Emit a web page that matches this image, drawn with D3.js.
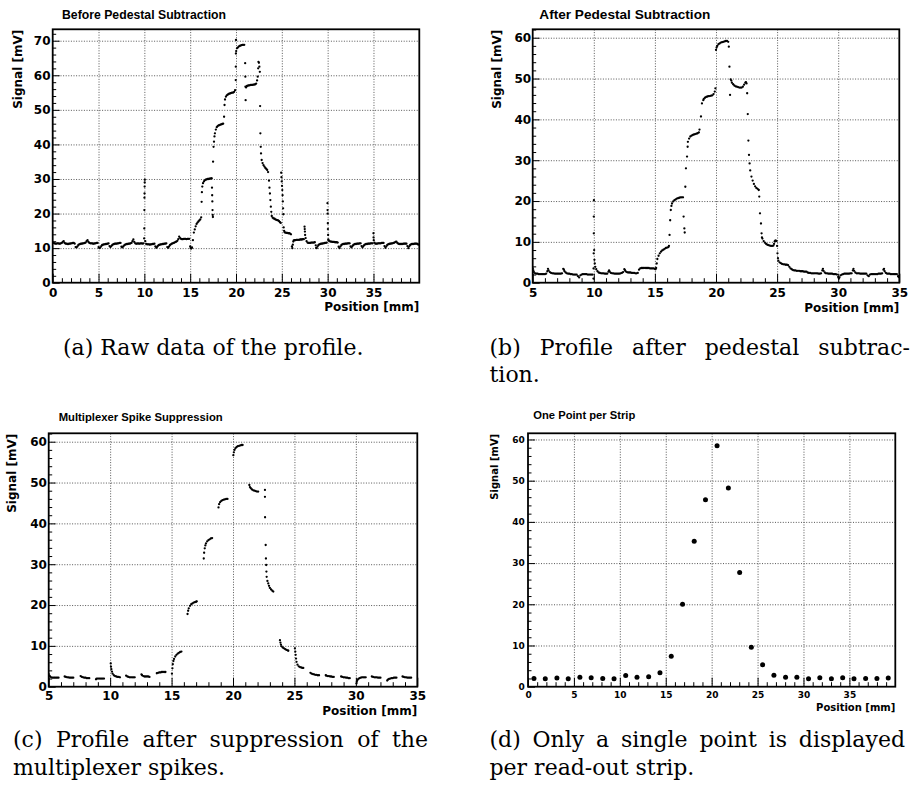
<!DOCTYPE html>
<html><head><meta charset="utf-8">
<script src="https://cdn.jsdelivr.net/npm/d3@7"></script>
<style>body{margin:0;background:#fff}svg{display:block}</style>
</head><body>
<svg id="fig" width="916" height="796"></svg>
<script>
// ---------- DATA ----------
// (a) raw profile [position mm, signal mV]
const rawPoints = [[0,11.4],[0.1,11.5],[0.2,11.4],[0.3,11.3],[0.4,11.3],[0.5,11.4],[0.6,11.4],[0.7,11.3],[0.8,11.3],[0.9,11.4],[1.0,11.5],[1.1,11.8],[1.2,12.0],[1.3,11.5],[1.4,11.3],[1.5,11.3],[1.6,11.2],[1.7,11.2],[1.8,11.3],[1.9,11.3],[2.0,11.4],[2.1,11.4],[2.2,11.5],[2.3,11.5],[2.4,11.3],[2.5,10.3],[2.6,10.2],[2.7,10.5],[2.8,10.9],[2.9,11.1],[3.0,11.2],[3.1,11.3],[3.2,11.3],[3.3,11.4],[3.4,11.4],[3.5,11.5],[3.6,11.6],[3.7,12.0],[3.8,12.3],[3.9,11.8],[4.0,11.5],[4.1,11.4],[4.2,11.4],[4.3,11.4],[4.4,11.3],[4.5,11.3],[4.6,11.4],[4.7,11.4],[4.8,11.5],[4.9,11.5],[5.0,10.3],[5.1,10.0],[5.2,10.2],[5.3,10.6],[5.4,10.9],[5.5,11.0],[5.6,11.1],[5.7,11.1],[5.8,11.2],[5.9,11.2],[6.0,11.3],[6.1,11.4],[6.2,10.6],[6.3,10.3],[6.4,10.6],[6.5,10.9],[6.6,11.1],[6.7,11.2],[6.8,11.3],[6.9,11.3],[7.0,11.3],[7.1,11.4],[7.2,11.4],[7.3,11.5],[7.4,11.5],[7.5,10.4],[7.6,10.2],[7.7,10.5],[7.8,10.8],[7.9,11.0],[8.0,11.1],[8.1,11.2],[8.2,11.2],[8.3,11.3],[8.4,11.3],[8.5,11.4],[8.6,11.5],[8.7,12.0],[8.8,12.5],[8.9,11.8],[9.0,11.4],[9.1,11.3],[9.2,11.3],[9.3,11.4],[9.4,11.3],[9.5,11.3],[9.6,11.4],[9.7,11.4],[9.8,11.3],[9.9,11.4],
[9.98,12.8],[9.99,15.7],[10.0,21.0],[10.01,24.6],[10.02,25.8],[10.03,27.8],[10.04,29.0],[10.05,29.8],[10.1,12.0],
[10.2,11.2],[10.3,11.1],[10.4,11.1],[10.5,11.1],[10.6,11.0],[10.7,11.1],[10.8,11.1],[10.9,11.2],[11.0,11.2],[11.1,11.3],[11.2,10.5],[11.3,10.1],[11.4,10.4],[11.5,10.7],[11.6,10.9],[11.7,11.0],[11.8,11.1],[11.9,11.1],[12.0,11.2],[12.1,11.2],[12.2,11.3],[12.3,11.3],[12.4,11.4],[12.5,10.3],[12.6,10.1],[12.7,10.5],[12.8,10.9],[12.9,11.1],[13.0,11.3],[13.1,11.4],[13.2,11.5],[13.3,11.6],[13.4,11.8],[13.5,11.9],[13.6,12.1],[13.7,12.6],[13.8,13.3],[13.9,12.9],[14.0,12.7],[14.1,12.6],[14.2,12.6],[14.3,12.7],[14.4,12.7],[14.5,12.7],[14.6,12.6],[14.7,12.7],[14.8,12.7],[14.9,12.7],
[15.0,10.5],[15.05,10.0],[15.1,9.9],[15.15,10.0],[15.2,10.2],[15.3,12.3],[15.4,14.5],[15.5,15.4],[15.6,16.3],[15.7,17.0],[15.8,17.4],[15.9,17.7],[16.0,18.0],[16.1,18.3],[16.2,18.9],[16.25,23.4],[16.28,26.2],[16.32,27.8],[16.4,28.8],[16.5,29.3],[16.6,29.6],[16.7,29.8],[16.8,29.9],[16.9,30.0],[17.0,30.0],[17.1,30.1],[17.2,30.1],[17.3,30.2],[17.35,30.2],
[17.38,27.5],[17.4,25.3],[17.42,23.5],[17.44,21.0],[17.46,19.6],[17.48,19.0],
[17.5,35.0],[17.55,39.3],[17.6,40.8],[17.65,42.3],[17.7,43.2],[17.8,44.3],[17.9,45.0],[18.0,45.3],[18.1,45.5],[18.2,45.6],[18.3,45.7],[18.4,45.8],[18.5,45.9],[18.6,46.0],[18.7,48.0],[18.75,51.4],[18.8,53.0],[18.9,53.8],[19.0,54.2],[19.1,54.4],[19.2,54.6],[19.3,54.7],[19.4,54.8],[19.5,54.9],[19.6,55.0],[19.7,55.0],[19.8,55.2],[19.9,55.7],
[19.97,58.6],[19.98,62.5],[19.99,66.3],[20.0,70.2],[20.02,67.0],[20.1,67.8],[20.2,68.0],[20.3,68.3],[20.4,68.5],[20.5,68.6],[20.6,68.7],[20.7,68.8],[20.8,68.8],[20.9,68.8],
[21.0,63.5],[21.02,59.6],[21.03,56.7],[21.05,52.8],[21.1,56.5],[21.2,56.9],[21.3,57.0],[21.4,57.1],[21.5,57.1],[21.6,57.2],[21.7,57.2],[21.8,57.2],[21.9,57.3],[22.0,57.3],[22.1,57.4],[22.2,57.6],[22.3,58.5],[22.37,59.6],[22.42,62.0],[22.45,63.9],[22.5,63.6],[22.55,62.5],[22.6,61.0],
[22.63,51.1],[22.66,43.2],[22.7,39.3],[22.73,37.4],[22.8,35.5],[22.9,34.6],[23.0,34.0],[23.1,33.6],[23.2,33.2],[23.3,32.9],[23.4,32.6],[23.5,32.0],[23.6,29.5],[23.65,27.5],[23.7,25.8],[23.75,23.9],[23.8,22.0],[23.85,20.5],[23.9,19.3],[24.0,18.8],[24.1,18.6],[24.2,18.5],[24.3,18.3],[24.4,18.2],[24.5,18.1],[24.6,18.0],[24.7,17.8],[24.8,17.5],[24.88,17.3],
[24.93,31.8],[24.96,30.5],[24.99,29.3],[25.02,28.0],[25.05,26.8],[25.08,25.3],[25.11,23.5],[25.14,21.5],[25.17,19.8],[25.2,16.0],[25.25,15.0],[25.3,14.6],[25.4,14.5],[25.5,14.4],[25.6,14.4],[25.7,14.3],[25.8,14.3],[25.9,14.2],[26.0,14.0],[26.1,10.5],[26.15,10.0],[26.2,11.0],[26.25,11.9],[26.3,12.2],[26.4,12.3],[26.5,12.3],[26.6,12.4],[26.7,12.4],[26.8,12.4],[26.9,12.4],[27.0,12.5],[27.1,12.5],[27.2,12.5],[27.3,12.6],[27.4,12.6],
[27.48,16.2],[27.5,15.5],[27.52,14.8],[27.54,13.8],[27.6,12.9],[27.7,12.0],[27.8,11.6],[27.9,11.5],[28.0,11.5],[28.1,11.5],[28.2,11.6],[28.3,11.6],[28.4,11.6],[28.5,11.6],[28.6,11.7],[28.7,10.8],[28.75,10.1],[28.8,10.0],[28.9,10.5],[29.0,10.9],[29.1,11.1],[29.2,11.2],[29.3,11.3],[29.4,11.3],[29.5,11.4],[29.6,11.4],[29.7,11.5],[29.8,11.5],[29.9,11.6],
[29.98,23.0],[29.99,21.0],[30.0,20.0],[30.02,17.2],[30.03,15.5],[30.05,13.8],[30.07,12.5],[30.1,12.2],[30.2,12.0],[30.3,11.9],[30.4,11.9],[30.5,11.8],[30.6,11.8],[30.7,11.8],[30.8,11.7],[30.9,11.7],[31.0,11.7],[31.1,11.6],[31.2,10.4],[31.3,10.0],[31.4,10.5],[31.5,10.9],[31.6,11.1],[31.7,11.2],[31.8,11.2],[31.9,11.3],[32.0,11.3],[32.1,11.3],[32.2,11.4],[32.3,11.4],[32.4,11.4],[32.5,10.5],[32.6,10.2],[32.7,10.6],[32.8,10.9],[32.9,11.1],[33.0,11.2],[33.1,11.2],[33.2,11.3],[33.3,11.3],[33.4,11.3],[33.5,11.4],[33.6,11.4],[33.7,10.6],[33.8,10.2],[33.9,10.6],[34.0,10.9],[34.1,11.1],[34.2,11.2],[34.3,11.2],[34.4,11.3],[34.5,11.3],[34.6,11.3],[34.7,11.4],[34.8,11.4],[34.9,11.4],
[35.0,14.3],[35.01,13.1],[35.03,12.3],[35.1,11.6],[35.2,11.3],[35.3,11.3],[35.4,11.3],[35.5,11.4],[35.6,11.4],[35.7,11.4],[35.8,11.4],[35.9,11.5],[36.0,11.5],[36.1,11.5],[36.2,10.6],[36.3,10.1],[36.4,10.5],[36.5,10.9],[36.6,11.1],[36.7,11.2],[36.8,11.3],[36.9,11.3],[37.0,11.4],[37.1,11.4],[37.2,11.5],[37.3,11.6],[37.4,11.8],[37.5,11.9],[37.6,11.5],[37.7,11.3],[37.8,11.2],[37.9,11.2],[38.0,11.2],[38.1,11.2],[38.2,11.2],[38.3,11.3],[38.4,11.3],[38.5,11.3],[38.6,11.3],[38.7,10.6],[38.8,10.0],[38.9,10.5],[39.0,10.9],[39.1,11.1],[39.2,11.2],[39.3,11.2],[39.4,11.2],[39.5,11.3],[39.6,11.3],[39.7,11.3],[39.8,11.2],[39.9,11.0]];

// (b) after pedestal subtraction
const pedPoints = [[5.0,3.5],[5.05,3.0],[5.1,2.6],[5.2,2.3],[5.3,2.2],[5.4,2.2],[5.5,2.1],[5.6,2.1],[5.7,2.1],[5.8,2.1],[5.9,2.1],[6.0,2.1],[6.1,2.2],[6.2,2.8],[6.25,3.4],[6.3,3.0],[6.4,2.6],[6.5,2.4],[6.6,2.3],[6.7,2.3],[6.8,2.2],[6.9,2.2],[7.0,2.2],[7.1,2.2],[7.2,2.2],[7.3,2.2],[7.4,2.3],[7.5,3.4],[7.55,3.2],[7.6,2.8],[7.7,2.5],[7.8,2.3],[7.9,2.2],[8.0,2.2],[8.1,2.1],[8.2,2.1],[8.3,2.0],[8.4,2.0],[8.5,2.0],[8.6,2.0],[8.7,1.6],[8.8,1.3],[8.9,1.8],[9.0,2.0],[9.1,2.1],[9.2,2.1],[9.3,2.1],[9.4,2.1],[9.5,2.0],[9.6,2.0],[9.7,2.0],[9.8,2.0],[9.9,2.0],
[9.97,1.0],[9.98,3.5],[9.99,7.2],[10.0,12.1],[10.0,16.2],[10.01,20.2],[10.03,8.0],[10.05,5.6],[10.08,4.7],[10.12,3.9],[10.2,3.3],[10.3,2.8],[10.4,2.5],[10.5,2.4],[10.6,2.3],[10.7,2.3],[10.8,2.3],[10.9,2.2],[11.0,2.2],[11.1,2.2],[11.2,2.7],[11.25,3.0],[11.3,2.7],[11.4,2.4],[11.5,2.3],[11.6,2.3],[11.7,2.2],[11.8,2.2],[11.9,2.2],[12.0,2.2],[12.1,2.2],[12.2,2.3],[12.3,2.4],[12.4,2.6],[12.5,3.3],[12.55,3.1],[12.6,2.8],[12.7,2.6],[12.8,2.5],[12.9,2.5],[13.0,2.5],[13.1,2.4],[13.2,2.4],[13.3,2.4],[13.4,2.3],[13.5,2.3],[13.6,2.4],[13.7,3.2],[13.8,3.5],[13.9,3.6],[14.0,3.6],[14.1,3.6],[14.2,3.6],[14.3,3.6],[14.4,3.6],[14.5,3.6],[14.6,3.5],[14.7,3.5],[14.8,3.5],[14.9,3.5],
[15.0,3.4],[15.05,3.3],[15.1,3.6],[15.15,4.7],[15.2,5.8],[15.3,6.6],[15.4,7.2],[15.5,7.6],[15.6,7.9],[15.7,8.1],[15.8,8.3],[15.9,8.5],[16.0,8.6],[16.1,8.7],[16.15,9.0],[16.2,11.7],[16.25,15.3],[16.3,17.8],[16.35,18.8],[16.4,19.4],[16.5,19.9],[16.6,20.2],[16.7,20.4],[16.8,20.6],[16.9,20.7],[17.0,20.8],[17.1,20.9],[17.2,20.9],[17.3,20.9],
[17.35,16.2],[17.41,13.3],[17.44,12.3],[17.49,23.5],[17.54,28.0],[17.63,30.9],[17.68,33.3],[17.7,34.5],[17.8,35.3],[17.9,35.8],[18.0,36.0],[18.1,36.2],[18.2,36.3],[18.3,36.4],[18.4,36.5],[18.5,36.6],[18.6,36.8],[18.65,37.5],[18.77,40.7],[18.85,43.9],[18.96,44.7],[19.0,45.0],[19.1,45.3],[19.2,45.5],[19.3,45.6],[19.4,45.7],[19.5,45.7],[19.6,45.8],[19.7,45.9],[19.8,46.2],[19.9,46.8],[19.95,47.6],
[20.0,57.0],[20.05,57.6],[20.1,58.0],[20.2,58.4],[20.3,58.6],[20.4,58.8],[20.5,58.9],[20.6,59.0],[20.7,59.1],[20.8,59.2],[20.9,59.2],[21.0,59.0],[21.05,57.8],[21.1,52.9],[21.15,46.0],[21.2,49.8],[21.25,49.5],[21.3,49.0],[21.4,48.6],[21.5,48.3],[21.6,48.1],[21.7,48.0],[21.8,47.9],[21.9,47.8],[22.0,47.8],[22.1,47.8],[22.2,48.0],[22.3,48.5],[22.4,49.0],[22.45,49.1],[22.5,48.8],[22.55,46.4],[22.6,41.3],[22.65,34.8],[22.7,31.3],[22.75,29.2],[22.8,27.5],[22.9,26.0],[23.0,25.0],[23.1,24.2],[23.2,23.6],[23.3,23.2],[23.4,23.0],[23.5,22.7],[23.54,21.1],[23.6,17.0],[23.68,14.5],[23.73,12.1],[23.76,11.1],[23.8,10.8],[23.9,10.2],[24.0,9.8],[24.1,9.5],[24.2,9.3],[24.3,9.2],[24.4,9.1],[24.5,9.0],[24.6,9.0],[24.7,9.1],[24.75,9.5],[24.8,10.1],[24.85,10.3],[24.9,10.3],[24.95,10.2],[25.0,9.0],[25.03,7.2],[25.07,6.0],[25.1,5.4],[25.2,5.0],[25.3,4.8],[25.4,4.6],[25.5,4.5],[25.6,4.5],[25.7,4.4],[25.8,4.4],[25.9,4.3],[26.0,3.9],[26.1,3.5],[26.2,3.3],[26.3,3.1],[26.4,3.0],[26.5,3.0],[26.6,2.9],[26.7,2.9],[26.8,2.9],[26.9,2.8],[27.0,2.8],[27.1,2.8],[27.2,2.7],[27.3,2.7],[27.4,2.7],[27.5,2.5],[27.6,2.4],[27.7,2.4],[27.8,2.3],[27.9,2.3],[28.0,2.3],[28.1,2.3],[28.2,2.3],[28.3,2.3],[28.4,2.2],[28.5,2.2],[28.6,2.3],[28.7,3.0],[28.75,3.4],[28.8,2.9],[28.9,2.5],[29.0,2.3],[29.1,2.3],[29.2,2.2],[29.3,2.2],[29.4,2.2],[29.5,2.2],[29.6,2.1],[29.7,2.1],[29.8,2.1],[29.9,2.0],[30.0,1.4],[30.05,1.0],[30.1,1.3],[30.2,1.8],[30.3,2.0],[30.4,2.1],[30.5,2.2],[30.6,2.2],[30.7,2.2],[30.8,2.2],[30.9,2.2],[31.0,2.3],[31.1,2.3],[31.2,3.0],[31.25,3.4],[31.3,2.9],[31.4,2.5],[31.5,2.3],[31.6,2.3],[31.7,2.3],[31.8,2.2],[31.9,2.2],[32.0,2.2],[32.1,2.2],[32.2,2.2],[32.3,2.2],[32.4,1.8],[32.5,1.6],[32.6,2.0],[32.7,2.1],[32.8,2.1],[32.9,2.1],[33.0,2.1],[33.1,2.1],[33.2,2.1],[33.3,2.2],[33.4,2.2],[33.5,2.2],[33.6,2.3],[33.7,3.2],[33.75,3.4],[33.8,2.8],[33.9,2.4],[34.0,2.2],[34.1,2.2],[34.2,2.2],[34.3,2.1],[34.4,2.1],[34.5,2.1],[34.6,2.1],[34.7,2.1],[34.8,2.1],[34.9,1.6],[34.95,1.4]];

// (c) after multiplexer spike suppression
const supPoints = [[5.0,3.1],[5.05,2.7],[5.1,2.5],[5.2,2.3],[5.3,2.2],[5.4,2.2],[5.5,2.2],[5.6,2.2],[5.7,2.2],[5.8,2.2],
[6.3,2.5],[6.4,2.4],[6.5,2.3],[6.6,2.3],[6.7,2.2],[6.8,2.2],[6.9,2.2],[7.0,2.2],
[7.6,2.6],[7.7,2.4],[7.8,2.3],[7.9,2.2],[8.0,2.2],[8.1,2.1],[8.2,2.1],[8.3,2.1],
[8.85,1.8],[8.9,2.0],[9.0,2.0],[9.1,2.0],[9.2,2.0],[9.3,2.0],[9.4,2.0],[9.5,2.0],
[10.05,5.7],[10.07,4.9],[10.1,4.3],[10.15,3.7],[10.2,3.2],[10.3,2.8],[10.4,2.6],[10.5,2.5],[10.6,2.4],[10.7,2.4],[10.8,2.3],
[11.3,2.7],[11.4,2.5],[11.5,2.4],[11.6,2.3],[11.7,2.3],[11.8,2.3],[11.9,2.3],[12.0,2.3],
[12.55,3.0],[12.6,2.8],[12.7,2.6],[12.8,2.5],[12.9,2.5],[13.0,2.5],[13.1,2.5],[13.2,2.4],
[13.8,3.3],[13.9,3.4],[14.0,3.5],[14.1,3.5],[14.2,3.6],[14.3,3.6],[14.4,3.6],[14.5,3.6],
[15.03,3.2],[15.07,4.5],[15.1,5.5],[15.15,6.3],[15.2,6.8],[15.3,7.4],[15.4,7.8],[15.5,8.1],[15.6,8.3],[15.7,8.5],[15.8,8.6],
[16.3,17.8],[16.35,18.6],[16.4,19.2],[16.5,19.8],[16.6,20.2],[16.7,20.4],[16.8,20.6],[16.9,20.7],[17.0,20.8],[17.05,20.9],
[17.62,31.4],[17.65,32.8],[17.7,33.9],[17.75,34.6],[17.8,35.1],[17.9,35.6],[18.0,35.9],[18.1,36.1],[18.2,36.3],[18.3,36.4],
[18.82,43.9],[18.87,44.7],[18.95,45.2],[19.05,45.5],[19.15,45.7],[19.25,45.8],[19.35,45.9],[19.45,46.0],[19.55,46.0],
[20.03,56.7],[20.07,57.4],[20.12,58.0],[20.2,58.4],[20.3,58.7],[20.4,58.9],[20.5,59.0],[20.6,59.1],[20.7,59.2],[20.78,59.2],
[21.33,49.4],[21.38,48.9],[21.45,48.6],[21.55,48.3],[21.65,48.1],[21.75,48.0],[21.85,47.9],[21.95,47.8],[22.05,47.8],
[22.6,48.2],[22.6,46.5],[22.61,41.5],[22.66,34.7],[22.68,31.4],[22.7,29.8],[22.72,28.2],[22.74,26.9],[22.8,25.9],[22.87,25.3],[22.93,24.7],[23.0,24.2],[23.1,23.8],[23.2,23.5],[23.28,23.3],
[23.82,11.4],[23.86,10.8],[23.9,10.3],[23.95,9.9],[24.05,9.6],[24.15,9.4],[24.25,9.2],[24.35,9.0],[24.45,8.9],[24.5,8.8],
[25.04,9.4],[25.07,8.6],[25.1,7.8],[25.13,6.9],[25.17,6.1],[25.25,5.4],[25.35,5.0],[25.45,4.8],[25.55,4.7],[25.65,4.6],[25.72,4.6],
[26.3,3.4],[26.4,3.2],[26.5,3.1],[26.6,3.0],[26.7,2.9],[26.8,2.9],[26.9,2.8],[27.0,2.8],
[27.55,2.8],[27.6,2.7],[27.7,2.6],[27.8,2.6],[27.9,2.5],[28.0,2.5],[28.1,2.4],[28.2,2.4],
[28.8,2.5],[28.9,2.4],[29.0,2.3],[29.1,2.3],[29.2,2.2],[29.3,2.2],[29.4,2.1],[29.5,2.1],
[30.05,0.8],[30.08,1.2],[30.12,1.6],[30.2,1.9],[30.3,2.1],[30.4,2.2],[30.5,2.3],[30.6,2.3],[30.7,2.3],[30.8,2.3],
[31.3,2.5],[31.4,2.4],[31.5,2.3],[31.6,2.3],[31.7,2.3],[31.8,2.2],[31.9,2.2],[32.0,2.2],
[32.55,1.5],[32.6,1.7],[32.7,1.9],[32.8,2.0],[32.9,2.1],[33.0,2.1],[33.1,2.2],[33.2,2.2],[33.3,2.2],
[33.8,2.5],[33.9,2.4],[34.0,2.3],[34.1,2.3],[34.2,2.2],[34.3,2.2],[34.4,2.2],[34.5,2.2]];

// (d) one point per read-out strip
const stripPos = [0.65,1.88,3.15,4.38,5.65,6.88,8.14,9.37,10.64,11.87,13.14,14.37,15.6,16.83,18.1,19.33,20.59,21.82,23.05,24.32,25.55,26.78,28.05,29.28,30.55,31.78,33.04,34.27,35.5,36.77,38.0,39.23];
const stripSig = [2.0,1.9,2.1,1.9,2.3,2.2,2.0,1.9,2.7,2.3,2.4,3.4,7.4,20.0,35.3,45.4,58.5,48.2,27.7,9.6,5.3,2.8,2.3,2.3,1.9,2.2,1.9,2.2,1.9,2.0,2.0,2.1];

// ticks / labels
const ticks0to35 = [0,5,10,15,20,25,30,35];
const ticks5to35 = [5,10,15,20,25,30,35];
const minorX0to40 = [1,2,3,4,6,7,8,9,11,12,13,14,16,17,18,19,21,22,23,24,26,27,28,29,31,32,33,34,36,37,38,39];
const minorX5to35 = [6,7,8,9,11,12,13,14,16,17,18,19,21,22,23,24,26,27,28,29,31,32,33,34];
const yTicks70 = [0,10,20,30,40,50,60,70];
const yTicks60 = [0,10,20,30,40,50,60];
const yMinor72 = [2,4,6,8,12,14,16,18,22,24,26,28,32,34,36,38,42,44,46,48,52,54,56,58,62,64,66,68,72];
const yMinor62 = [2,4,6,8,12,14,16,18,22,24,26,28,32,34,36,38,42,44,46,48,52,54,56,58,62];
const titles = ["Before Pedestal Subtraction","After Pedestal Subtraction","Multiplexer Spike Suppression","One Point per Strip"];
const xTitle = "Position [mm]", yTitle = "Signal [mV]";
const captionA = "(a) Raw data of the profile.";
const captionB = ["(b) Profile after pedestal subtrac-","tion."];
const captionC = ["(c) Profile after suppression of the","multiplexer spikes."];
const captionD = ["(d) Only a single point is displayed","per read-out strip."];

// ---------- DRAWING ----------
const svg = d3.select('#fig');
const AXF = "'DejaVu Sans', sans-serif";
const TTF = "'Liberation Sans', Arial, sans-serif";
const CAPF = "'DejaVu Serif', serif";
let clipId = 0;

function drawPanel(p) {
  const x = d3.scaleLinear().domain(p.xDom).range([p.L, p.R]);
  const y = d3.scaleLinear().domain(p.yDom).range([p.B, p.T]);
  const W = p.R - p.L, H = p.B - p.T;
  const g = svg.append('g');

  // grid
  const gx = g.append('g').attr('transform', `translate(0,${p.B})`)
    .call(d3.axisBottom(x).tickValues(p.xGrid).tickSize(-H).tickFormat(''));
  const gy = g.append('g').attr('transform', `translate(${p.L},0)`)
    .call(d3.axisLeft(y).tickValues(p.yGrid).tickSize(-W).tickFormat(''));
  [gx, gy].forEach(a => {
    a.select('.domain').remove();
    a.selectAll('line').attr('stroke', '#444').attr('stroke-width', 0.9).attr('stroke-dasharray', '1,1.6');
  });

  // points
  const id = 'clip' + (clipId++);
  svg.append('clipPath').attr('id', id).append('rect')
    .attr('x', p.L).attr('y', p.T).attr('width', W).attr('height', H);
  g.append('g').attr('clip-path', `url(#${id})`)
    .selectAll('circle').data(p.points).join('circle')
    .attr('cx', d => x(d[0])).attr('cy', d => y(d[1])).attr('r', p.r).attr('fill', '#000');

  // minor ticks
  const mx = g.append('g').attr('transform', `translate(0,${p.B})`)
    .call(d3.axisBottom(x).tickValues(p.xMinor).tickSize(-p.xMinLen).tickFormat(''));
  const my = g.append('g').attr('transform', `translate(${p.L},0)`)
    .call(d3.axisLeft(y).tickValues(p.yMinor).tickSize(-p.yMinLen).tickFormat(''));
  // major ticks + labels
  const ax = g.append('g').attr('transform', `translate(0,${p.B})`)
    .call(d3.axisBottom(x).tickValues(p.xMajor).tickSize(-p.xMajLen).tickPadding(p.xPad).tickFormat(d3.format('d')));
  const ay = g.append('g').attr('transform', `translate(${p.L},0)`)
    .call(d3.axisLeft(y).tickValues(p.yMajor).tickSize(-p.yMajLen).tickPadding(p.yPad).tickFormat(d3.format('d')));
  [mx, my, ax, ay].forEach(a => {
    a.select('.domain').remove();
    a.selectAll('line').attr('stroke', '#000').attr('stroke-width', 1);
    a.selectAll('text').attr('font-family', AXF).attr('font-weight', 'bold')
      .attr('font-size', p.tickFont).attr('fill', '#000');
  });

  // frame
  g.append('rect').attr('x', p.L).attr('y', p.T).attr('width', W).attr('height', H)
    .attr('fill', 'none').attr('stroke', '#000').attr('stroke-width', 1.8);

  // axis titles
  g.append('text').attr('x', p.R).attr('y', p.xLabY).attr('text-anchor', 'end')
    .attr('font-family', AXF).attr('font-weight', 'bold').attr('font-size', p.labFont).text(xTitle);
  g.append('text').attr('transform', `translate(${p.yLabX},${p.T + 0.5}) rotate(-90)`)
    .attr('text-anchor', 'end')
    .attr('font-family', AXF).attr('font-weight', 'bold').attr('font-size', p.labFont).text(yTitle);

  // panel title
  g.append('text').attr('x', p.tX).attr('y', p.tY)
    .attr('font-family', TTF).attr('font-weight', 'bold').attr('font-size', p.tSize)
    .attr('textLength', p.tLen).attr('lengthAdjust', 'spacingAndGlyphs').text(p.title);
}

drawPanel({L:52.7, R:419.3, T:29.3, B:282.7, xDom:[0,40], yDom:[0,73.3], points: rawPoints, r:1.15,
  xGrid: ticks5to35, yGrid: yTicks70.slice(1), xMajor: ticks0to35, xMinor: minorX0to40,
  yMajor: yTicks70, yMinor: yMinor72, xMajLen:9, xMinLen:4.5, yMajLen:7, yMinLen:3.5,
  xPad:5.5, yPad:2.2, tickFont:12, labFont:12, xLabY:311, yLabX:21.5,
  title: titles[0], tX:62, tY:19, tSize:12.2, tLen:164});

drawPanel({L:532.7, R:899.3, T:29.3, B:282.7, xDom:[5,35], yDom:[0,62.06], points: pedPoints, r:1.15,
  xGrid: [10,15,20,25,30], yGrid: yTicks60.slice(1), xMajor: ticks5to35, xMinor: minorX5to35,
  yMajor: yTicks60, yMinor: yMinor62, xMajLen:9, xMinLen:4.5, yMajLen:7, yMinLen:3.5,
  xPad:6, yPad:1.5, tickFont:12, labFont:12, xLabY:311.7, yLabX:500.7,
  title: titles[1], tX:539.3, tY:19, tSize:13.6, tLen:171});

drawPanel({L:48.7, R:417.3, T:433.3, B:686.7, xDom:[5,35], yDom:[0,62.06], points: supPoints, r:1.15,
  xGrid: [10,15,20,25,30], yGrid: yTicks60.slice(1), xMajor: ticks5to35, xMinor: minorX5to35,
  yMajor: yTicks60, yMinor: yMinor62, xMajLen:9, xMinLen:4.5, yMajLen:7, yMinLen:3.5,
  xPad:4.8, yPad:1.8, tickFont:12, labFont:12, xLabY:715, yLabX:16,
  title: titles[2], tX:58.7, tY:421.3, tSize:11.3, tLen:164});

drawPanel({L:528, R:895.3, T:433.3, B:686.7, xDom:[0,40], yDom:[0,61.5],
  points: stripPos.map((d, i) => [d, stripSig[i]]), r:2.5,
  xGrid: ticks5to35, yGrid: yTicks60.slice(1), xMajor: ticks0to35, xMinor: minorX0to40,
  yMajor: yTicks60, yMinor: yMinor62.slice(0, -1), xMajLen:9, xMinLen:4.5, yMajLen:7, yMinLen:3.5,
  xPad:5.2, yPad:3.3, tickFont:9, labFont:10, xLabY:711, yLabX:497.5,
  title: titles[3], tX:533.3, tY:418.7, tSize:11.2, tLen:102});

// ---------- CAPTIONS ----------
const CAPSIZE = 22;
function capText(txt, x0, yb) {
  return svg.append('text').attr('x', x0).attr('y', yb).attr('font-family', CAPF)
    .attr('font-size', CAPSIZE).attr('fill', '#000').text(txt);
}
function justified(txt, x0, x1, yb) {
  const words = txt.split(' ');
  const g = svg.append('g');
  const ts = words.map(w => g.append('text').attr('y', yb).attr('font-family', CAPF)
    .attr('font-size', CAPSIZE).attr('fill', '#000').text(w));
  const widths = ts.map(t => t.node().getComputedTextLength());
  const gap = Math.max(4, (x1 - x0 - d3.sum(widths)) / (words.length - 1));
  let xx = x0;
  ts.forEach((t, i) => { t.attr('x', xx); xx += widths[i] + gap; });
}
capText(captionA, 63, 355);
justified(captionB[0], 489.5, 910, 355);
capText(captionB[1], 489.5, 382);
justified(captionC[0], 13, 428, 747);
capText(captionC[1], 13, 775);
justified(captionD[0], 489.5, 905, 747);
capText(captionD[1], 489.5, 775);
</script>
</body></html>
